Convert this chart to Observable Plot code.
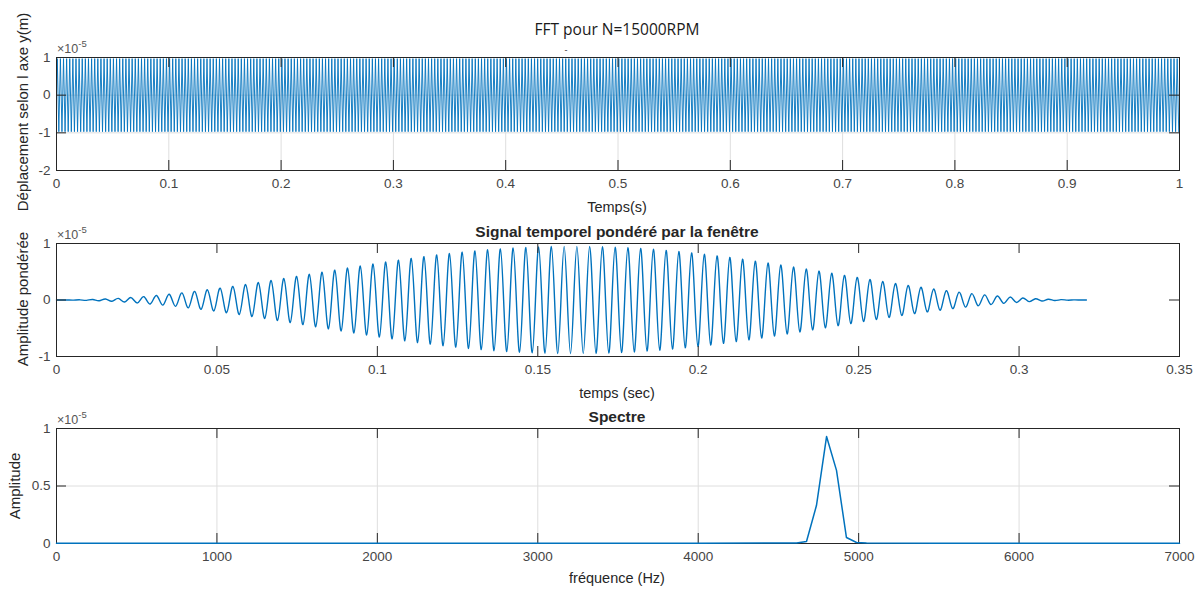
<!DOCTYPE html>
<html><head><meta charset="utf-8">
<script src="https://cdn.jsdelivr.net/npm/d3@7"></script>
<script src="https://cdn.jsdelivr.net/npm/@observablehq/plot@0.6"></script>
<style>
body{margin:0;background:#fff;}
#root{position:relative;width:1200px;height:591px;overflow:hidden;font-family:"Liberation Sans",Arial,sans-serif;color:#262626;}
.t{position:absolute;white-space:nowrap;transform:translate(-50%,-50%);line-height:1;}
.r{transform:translate(-50%,-50%) rotate(-90deg);}
.exp{position:absolute;white-space:nowrap;font-size:12.5px;color:#555;line-height:1;}
.exp sup{font-size:9.5px;position:relative;top:-1px;}
</style></head><body><div id="root"></div>
<script>
// ---------- data (values in units of 1e-5) ----------
const topTicksX = [0, 0.1, 0.2, 0.3, 0.4, 0.5, 0.6, 0.7, 0.8, 0.9, 1];
const topTicksY = [-2, -1, 0, 1];
// successive extremes of the displacement signal (0..1 s)
const topDisplacement = [
0.97,-0.97,0.97,-0.97,0.97,-0.97,0.97,-0.97,0.97,-0.97,0.97,-0.97,0.97,-0.97,0.97,-0.97,0.97,-0.97,0.97,-0.97,
0.97,-0.97,0.97,-0.97,0.97,-0.97,0.97,-0.97,0.97,-0.97,0.97,-0.97,0.97,-0.97,0.97,-0.97,0.97,-0.97,0.97,-0.97,
0.97,-0.97,0.97,-0.97,0.97,-0.97,0.97,-0.97,0.97,-0.97,0.97,-0.97,0.97,-0.97,0.97,-0.97,0.97,-0.97,0.97,-0.97,
0.97,-0.97,0.97,-0.97,0.97,-0.97,0.97,-0.97,0.97,-0.97,0.97,-0.97,0.97,-0.97,0.97,-0.97,0.97,-0.97,0.97,-0.97,
0.97,-0.97,0.97,-0.97,0.97,-0.97,0.97,-0.97,0.97,-0.97,0.97,-0.97,0.97,-0.97,0.97,-0.97,0.97,-0.97,0.97,-0.97,
0.97,-0.97,0.97,-0.97,0.97,-0.97,0.97,-0.97,0.97,-0.97,0.97,-0.97,0.97,-0.97,0.97,-0.97,0.97,-0.97,0.97,-0.97,
0.97,-0.97,0.97,-0.97,0.97,-0.97,0.97,-0.97,0.97,-0.97,0.97,-0.97,0.97,-0.97,0.97,-0.97,0.97,-0.97,0.97,-0.97,
0.97,-0.97,0.97,-0.97,0.97,-0.97,0.97,-0.97,0.97,-0.97,0.97,-0.97,0.97,-0.97,0.97,-0.97,0.97,-0.97,0.97,-0.97,
0.97,-0.97,0.97,-0.97,0.97,-0.97,0.97,-0.97,0.97,-0.97,0.97,-0.97,0.97,-0.97,0.97,-0.97,0.97,-0.97,0.97,-0.97,
0.97,-0.97,0.97,-0.97,0.97,-0.97,0.97,-0.97,0.97,-0.97,0.97,-0.97,0.97,-0.97,0.97,-0.97,0.97,-0.97,0.97,-0.97,
0.97,-0.97,0.97,-0.97,0.97,-0.97,0.97,-0.97,0.97,-0.97,0.97,-0.97,0.97,-0.97,0.97,-0.97,0.97,-0.97,0.97,-0.97,
0.97,-0.97,0.97,-0.97,0.97,-0.97,0.97,-0.97,0.97,-0.97,0.97,-0.97,0.97,-0.97,0.97,-0.97,0.97,-0.97,0.97,-0.97,
0.97,-0.97,0.97,-0.97,0.97,-0.97,0.97,-0.97,0.97,-0.97,0.97,-0.97,0.97,-0.97,0.97,-0.97,0.97,-0.97,0.97,-0.97,
0.97,-0.97,0.97,-0.97,0.97,-0.97,0.97,-0.97,0.97,-0.97,0.97,-0.97,0.97,-0.97,0.97,-0.97,0.97,-0.97,0.97,-0.97,
0.97,-0.97,0.97,-0.97,0.97,-0.97,0.97,-0.97,0.97,-0.97,0.97,-0.97,0.97,-0.97,0.97,-0.97,0.97,-0.97,0.97,-0.97,
0.97,-0.97,0.97,-0.97,0.97,-0.97,0.97,-0.97,0.97,-0.97,0.97,-0.97,0.97,-0.97,0.97,-0.97,0.97,-0.97,0.97,-0.97,
0.97,-0.97,0.97,-0.97,0.97,-0.97,0.97,-0.97,0.97,-0.97,0.97,-0.97,0.97,-0.97,0.97,-0.97,0.97,-0.97,0.97,-0.97,
0.97,-0.97,0.97,-0.97,0.97,-0.97,0.97,-0.97,0.97,-0.97,0.97,-0.97,0.97,-0.97,0.97,-0.97,0.97,-0.97,0.97,-0.97,
0.97,-0.97,0.97,-0.97,0.97,-0.97,0.97,-0.97,0.97,-0.97,0.97,-0.97,0.97,-0.97,0.97,-0.97,0.97,-0.97,0.97,-0.97,
0.97,-0.97,0.97,-0.97,0.97,-0.97,0.97,-0.97,0.97,-0.97,0.97,-0.97,0.97,-0.97,0.97,-0.97,0.97,-0.97,0.97,-0.97,
0.97,-0.97,0.97,-0.97,0.97,-0.97,0.97,-0.97,0.97,-0.97,0.97,-0.97,0.97,-0.97,0.97,-0.97,0.97,-0.97,0.97,-0.97,
0.97,-0.97,0.97,-0.97,0.97,-0.97,0.97,-0.97,0.97,-0.97,0.97,-0.97,0.97,-0.97,0.97,-0.97,0.97,-0.97,0.97,-0.97,
0.97,-0.97,0.97,-0.97,0.97,-0.97,0.97,-0.97,0.97,-0.97,0.97,-0.97,0.97,-0.97,0.97,-0.97,0.97,-0.97,0.97,-0.97,
0.97,-0.97,0.97,-0.97,0.97,-0.97,0.97,-0.97,0.97,-0.97,0.97,-0.97,0.97,-0.97,0.97,-0.97,0.97,-0.97,0.97,-0.97,
0.97,-0.97,0.97,-0.97,0.97,-0.97,0.97,-0.97,0.97,-0.97,0.97,-0.97,0.97,-0.97,0.97,-0.97,0.97,-0.97,0.97,-0.97,
0.97,-0.97,0.97,-0.97,0.97,-0.97,0.97,-0.97,0.97,-0.97,0.97,-0.97,0.97,-0.97,0.97,-0.97,0.97,-0.97,0.97,-0.97,
0.97,-0.97,0.97,-0.97,0.97,-0.97,0.97,-0.97,0.97,-0.97,0.97,-0.97,0.97,-0.97,0.97,-0.97,0.97,-0.97,0.97,-0.97,
0.97,-0.97,0.97,-0.97,0.97,-0.97,0.97,-0.97,0.97,-0.97,0.97,-0.97,0.97,-0.97,0.97,-0.97,0.97,-0.97,0.97,-0.97,
0.97,-0.97,0.97,-0.97,0.97,-0.97,0.97,-0.97,0.97,-0.97,0.97,-0.97,0.97,-0.97,0.97,-0.97,0.97,-0.97,0.97,-0.97,
0.97,-0.97,0.97,-0.97,0.97,-0.97,0.97,-0.97,0.97,-0.97,0.97,-0.97,0.97,-0.97,0.97,-0.97,0.97,-0.97,0.97,-0.97,
0.97,-0.97,0.97,-0.97,0.97,-0.97,0.97,-0.97,0.97,-0.97,0.97,-0.97,0.97,-0.97,0.97,-0.97,0.97,-0.97,0.97,-0.97,
0.97,-0.97,0.97,-0.97,0.97,-0.97,0.97,-0.97,0.97,-0.97,0.97,-0.97,0.97,-0.97,0.97,-0.97,0.97,-0.97,0.97,-0.97,
0.97,-0.97,0.97,-0.97,0.97,-0.97,0.97,-0.97,0.97,-0.97,0.97,-0.97,0.97,-0.97,0.97,-0.97,0.97,-0.97,0.97,-0.97,
0.97,-0.97,0.97,-0.97,0.97,-0.97,0.97,-0.97,0.97,-0.97,0.97,-0.97,0.97,-0.97,0.97,-0.97,0.97,-0.97,0.97,-0.97,
0.97,-0.97,0.97,-0.97,0.97,-0.97,0.97,-0.97,0.97,-0.97,0.97,-0.97,0.97,-0.97,0.97,-0.97,0.97,-0.97,0.97,-0.97,
0.97,-0.97,0.97,-0.97,0.97,-0.97,0.97,-0.97,0.97,-0.97,0.97,-0.97,0.97,-0.97,0.97,-0.97,0.97,-0.97,0.97,-0.97
];
const topEnd = 1;

const midTicksX = [0, 0.05, 0.1, 0.15, 0.2, 0.25, 0.3, 0.35];
const midTicksY = [-1, 0, 1];
const midStart = 0.0014;       // time of first extreme (s)
const midHalfPeriod = 0.001985; // spacing between successive extremes (s)
// successive extremes of the windowed signal
const midWeighted = [
0,0.000,-0.002,0.003,-0.006,0.009,-0.013,0.018,-0.023,0.029,
-0.036,0.043,-0.052,0.060,-0.070,0.080,-0.090,0.101,-0.113,0.125,
-0.138,0.152,-0.165,0.180,-0.194,0.210,-0.225,0.241,-0.257,0.274,
-0.291,0.308,-0.326,0.344,-0.362,0.380,-0.399,0.417,-0.436,0.454,
-0.473,0.491,-0.510,0.528,-0.547,0.565,-0.583,0.601,-0.619,0.637,
-0.654,0.671,-0.688,0.705,-0.721,0.736,-0.752,0.767,-0.781,0.796,
-0.809,0.822,-0.834,0.846,-0.857,0.868,-0.878,0.888,-0.897,0.905,
-0.912,0.919,-0.926,0.931,-0.936,0.940,-0.943,0.946,-0.948,0.949,
-0.950,0.950,-0.949,0.948,-0.946,0.943,-0.940,0.936,-0.931,0.926,
-0.919,0.912,-0.905,0.897,-0.888,0.878,-0.868,0.857,-0.846,0.834,
-0.822,0.809,-0.796,0.781,-0.767,0.752,-0.736,0.721,-0.705,0.688,
-0.671,0.654,-0.637,0.619,-0.601,0.583,-0.565,0.547,-0.528,0.510,
-0.491,0.473,-0.454,0.436,-0.417,0.399,-0.380,0.362,-0.344,0.326,
-0.308,0.291,-0.274,0.257,-0.241,0.225,-0.210,0.194,-0.180,0.165,
-0.152,0.138,-0.125,0.113,-0.101,0.090,-0.080,0.070,-0.060,0.052,
-0.043,0.036,-0.029,0.023,-0.018,0.013,-0.009,0.006,-0.003,0.002,
-0.000,0
];

const freqTicksX = [0, 1000, 2000, 3000, 4000, 5000, 6000, 7000];
const freqTicksY = [0, 0.5, 1];
const spectrumFreq = [0, 500, 1000, 1500, 2000, 2500, 3000, 3500, 4000, 4500, 4613, 4675, 4737, 4800, 4862, 4924, 4987, 5049, 5500, 6000, 6500, 7000];
const spectrumAmp  = [0.003, 0.002, 0.002, 0.002, 0.002, 0.002, 0.002, 0.003, 0.003, 0.004, 0.005, 0.018, 0.33, 0.93, 0.636, 0.052, 0.009, 0.004, 0.003, 0.002, 0.002, 0.002];

// ---------- rendering ----------
const blue = "#0072BD", axisColor = "#262626", gridColor = "#dedede";
const root = document.getElementById("root");
const fmt = d => String(d);

function panel({top, height, mt, mb, xDomain, yDomain, xTicks, yTicks, grid, under = [], over = []}) {
  const ml = 56, mr = 21, W = 1200, tl = 10;
  const fw = W - ml - mr, fh = height - mt - mb;
  const marks = [];
  if (grid) {
    marks.push(Plot.ruleX(xTicks, {x: d => d, stroke: gridColor}));
    marks.push(Plot.ruleY(yTicks, {y: d => d, stroke: gridColor}));
  }
  marks.push(...under);
  marks.push(Plot.frame({stroke: axisColor}));
  marks.push(Plot.tickX(xTicks, {x: d => d, insetBottom: fh - tl, stroke: axisColor}));
  marks.push(Plot.tickX(xTicks, {x: d => d, insetTop: fh - tl, stroke: axisColor}));
  marks.push(Plot.tickY(yTicks, {y: d => d, insetRight: fw - tl, stroke: axisColor}));
  marks.push(Plot.tickY(yTicks, {y: d => d, insetLeft: fw - tl, stroke: axisColor}));
  marks.push(...over);
  marks.push(Plot.axisX(xTicks, {tickSize: 0, tickPadding: 8, tickFormat: fmt, label: null, fontSize: 13.5}));
  marks.push(Plot.axisY(yTicks, {tickSize: 0, tickPadding: 6, tickFormat: fmt, label: null, fontSize: 13.5}));
  const svg = Plot.plot({
    width: W, height,
    marginTop: mt, marginBottom: mb, marginLeft: ml, marginRight: mr,
    x: {domain: xDomain}, y: {domain: yDomain},
    style: {fontFamily: '"Liberation Sans", Arial, sans-serif', color: "#454545", background: "transparent", overflow: "visible"},
    marks
  });
  svg.style.position = "absolute";
  svg.style.left = "0px";
  svg.style.top = top + "px";
  root.appendChild(svg);
}

// panel 1
const topData = [{t: 0, v: 0}].concat(topDisplacement.map((v, i) => ({t: (i + 0.5) / topDisplacement.length * topEnd, v})));
panel({
  top: 0, height: 215, mt: 57, mb: 45,
  xDomain: [0, 1], yDomain: [-2, 1], xTicks: topTicksX, yTicks: topTicksY, grid: true,
  under: [Plot.line(topData, {x: "t", y: "v", stroke: blue, strokeWidth: 0.9})]
});

// panel 2
const midData = [{t: 0, v: 0}].concat(midWeighted.map((v, j) => ({t: midStart + j * midHalfPeriod, v})));
panel({
  top: 215, height: 185, mt: 28, mb: 44,
  xDomain: [0, 0.35], yDomain: [-1, 1], xTicks: midTicksX, yTicks: midTicksY, grid: false,
  under: [Plot.line(midData, {x: "t", y: "v", stroke: blue, strokeWidth: 1.4, curve: "natural"})]
});

// panel 3
const specData = spectrumFreq.map((f, i) => ({f, a: spectrumAmp[i]}));
panel({
  top: 400, height: 191, mt: 28, mb: 48,
  xDomain: [0, 7000], yDomain: [0, 1], xTicks: freqTicksX, yTicks: freqTicksY, grid: true,
  over: [Plot.line(specData, {x: "f", y: "a", stroke: blue, strokeWidth: 1.5})]
});

// ---------- texts ----------
function text(str, x, y, css, cls = "t") {
  const d = document.createElement("div");
  d.className = cls;
  d.textContent = str;
  d.style.left = x + "px";
  d.style.top = y + "px";
  Object.assign(d.style, css || {});
  root.appendChild(d);
  return d;
}
function exponent(x, y) {
  const d = document.createElement("div");
  d.className = "exp";
  d.innerHTML = "×10<sup>-5</sup>";
  d.style.left = x + "px";
  d.style.top = y + "px";
  root.appendChild(d);
}
text("FFT pour N=15000RPM", 617, 30, {fontSize: "15.5px", fontFamily: '"Open Sans", sans-serif', color: "#1a1a1a"});
text("-", 566, 50, {fontSize: "9px", color: "#333"});
text("Déplacement selon l axe y(m)", 22, 112, {fontSize: "15px"}, "t r");
text("Temps(s)", 617, 207, {fontSize: "14.5px"});
text("Signal temporel pondéré par la fenêtre", 617, 232, {fontSize: "15.5px", fontWeight: "bold"});
text("Amplitude pondérée", 22, 299, {fontSize: "15px"}, "t r");
text("temps (sec)", 617, 393, {fontSize: "14.5px"});
text("Spectre", 617, 417, {fontSize: "15.5px", fontWeight: "bold"});
text("Amplitude", 14, 486, {fontSize: "15px"}, "t r");
text("fréquence (Hz)", 617, 578, {fontSize: "14.5px"});
exponent(57, 40);
exponent(57, 226);
exponent(57, 411);
</script>
</body></html>
